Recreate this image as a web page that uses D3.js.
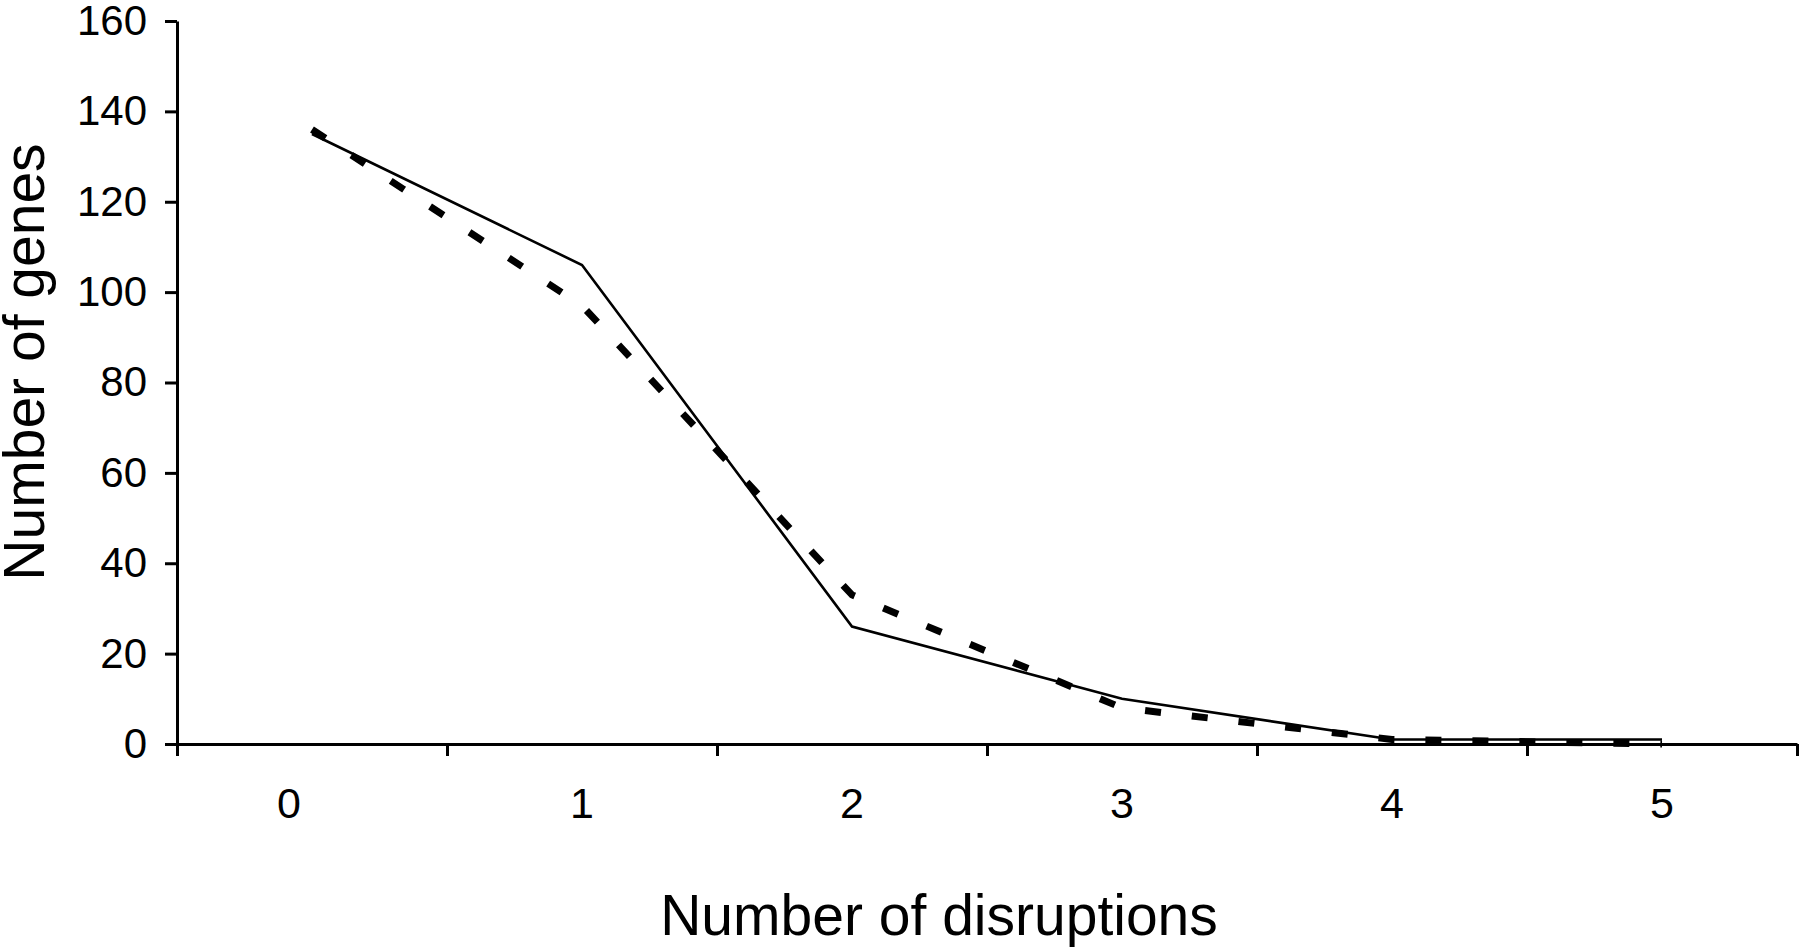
<!DOCTYPE html>
<html>
<head>
<meta charset="utf-8">
<script src="https://cdn.jsdelivr.net/npm/d3@7"></script>
<style>
  body { margin: 0; background: #fff; }
  text { font-family: "Liberation Sans", Arial, sans-serif; fill: #000; }
</style>
</head>
<body>
<svg width="1800" height="950"></svg>
<script>
// data
const categories = ["0", "1", "2", "3", "4", "5"];
const observed = [135, 106, 26, 10, 1, 1]; // solid line
const expected = [136, 97, 33, 8, 1, 0]; // dashed line
const yTicks = [0, 20, 40, 60, 80, 100, 120, 140, 160];

///////////// set up canvas
const svg = d3.select("svg"),
  width = +svg.attr("width"),
  height = +svg.attr("height");

// plot edges (top is taken by window.top so use other names)
const plotLeft = 177,
  plotRight = 1797,
  plotTop = 21,
  plotBottom = 744;

// band scale for the categories, linear one for the tick marks between them
const x = d3.scaleBand().domain(categories).range([plotLeft, plotRight]);
const xEdge = d3.scaleLinear().domain([0, categories.length]).range([plotLeft, plotRight]);
const y = d3.scaleLinear().domain([0, 160]).range([plotBottom, plotTop]);

// x axis: line + ticks on band edges
svg
  .append("g")
  .attr("transform", `translate(0,${plotBottom})`)
  .call(
    d3
      .axisBottom(xEdge)
      .tickValues(d3.range(categories.length + 1))
      .tickFormat("")
      .tickSize(12)
      .tickSizeOuter(0)
  );

// x labels centred in each band
const xAxisLabels = svg
  .append("g")
  .attr("transform", `translate(0,${plotBottom})`)
  .call(d3.axisBottom(x).tickSize(0).tickPadding(43));
xAxisLabels.select(".domain").remove();
xAxisLabels
  .selectAll("text")
  .attr("font-size", 43)
  // the "0" label sits a bit left of its band in the original
  .attr("dx", (d, i) => (i === 0 ? -23 : 0));

// y axis
const yAxis = svg
  .append("g")
  .attr("transform", `translate(${plotLeft},0)`)
  .call(d3.axisLeft(y).tickValues(yTicks).tickSize(12).tickSizeOuter(0).tickPadding(18));
yAxis.selectAll("text").attr("font-size", 42);

// axis styling
svg.selectAll(".domain, .tick line").attr("stroke", "#000").attr("stroke-width", 3);

// lines
const line = d3
  .line()
  .x((d, i) => x(categories[i]) + x.bandwidth() / 2)
  .y((d) => y(d));

svg
  .append("path")
  .datum(observed)
  .attr("fill", "none")
  .attr("stroke", "#000")
  .attr("stroke-width", 2.6)
  .attr("d", line);

svg
  .append("path")
  .datum(expected)
  .attr("fill", "none")
  .attr("stroke", "#000")
  .attr("stroke-width", 7)
  .attr("stroke-dasharray", "16,31")
  .attr("d", line);

// axis titles
svg
  .append("text")
  .attr("x", 939)
  .attr("y", 935)
  .attr("text-anchor", "middle")
  .attr("font-size", 57)
  .text("Number of disruptions");

svg
  .append("text")
  .attr("transform", "translate(44,362) rotate(-90)")
  .attr("text-anchor", "middle")
  .attr("font-size", 57)
  .text("Number of genes");
</script>
</body>
</html>
